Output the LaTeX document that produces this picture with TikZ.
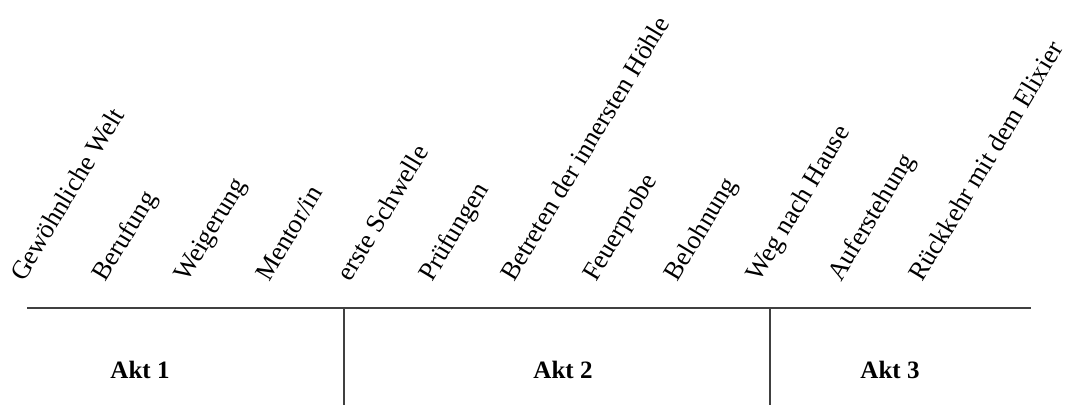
\documentclass[tikz,border=0pt]{standalone}
\usepackage{fontspec}
\setmainfont{Liberation Serif}
\begin{document}
\begin{tikzpicture}[x=1pt,y=1pt,
  stage/.style={rotate=59, anchor=base west, inner sep=0pt, font=\fontsize{26.3}{30}\selectfont},
  akt/.style={anchor=base, inner sep=0pt, font=\fontsize{25}{30}\selectfont\bfseries},
  rule/.style={line width=1.1pt, draw=black!75}]
\useasboundingbox (0,0) rectangle (1067,405);
\foreach \t [count=\i from 0] in {Gewöhnliche Welt, Berufung, Weigerung, Mentor/in, erste Schwelle, Prüfungen, Betreten der innersten Höhle, Feuerprobe, Belohnung, Weg nach Hause, Auferstehung, Rückkehr mit dem Elixier}
  \node[stage] (s\i) at ({24+81.7*\i},122) {\t};
\coordinate (l0) at (27,97);
\coordinate (l1) at (1031,97);
\coordinate (d1) at (344,97);
\coordinate (d1b) at (344,0);
\coordinate (d2) at (770,97);
\coordinate (d2b) at (770,0);
\draw[rule] (l0) -- (l1);
\draw[rule] (d1) -- (d1b);
\draw[rule] (d2) -- (d2b);
\node[akt] (a1) at (140,27) {Akt 1};
\node[akt] (a2) at (563,27) {Akt 2};
\node[akt] (a3) at (890,27) {Akt 3};
\end{tikzpicture}
\end{document}
